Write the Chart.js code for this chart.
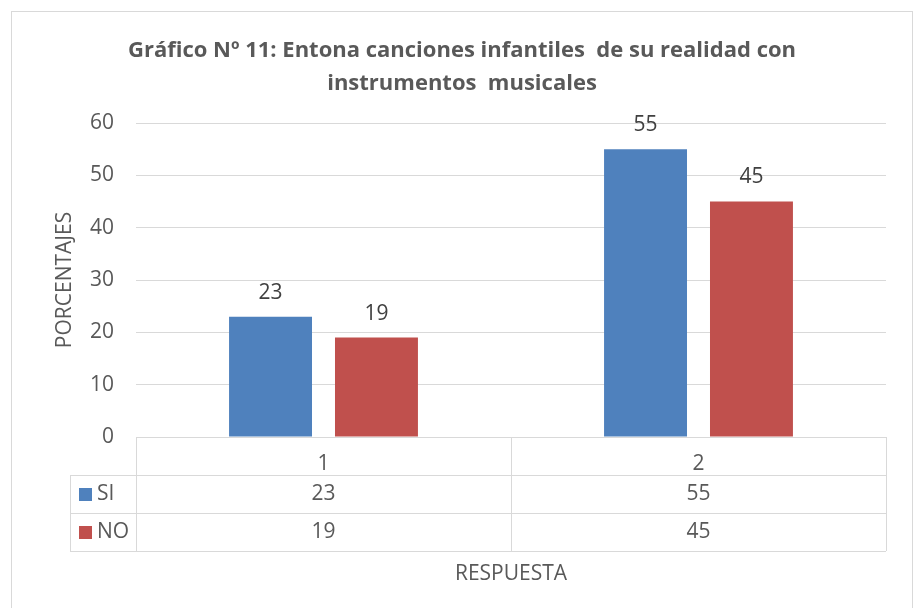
<!DOCTYPE html>
<html>
<head>
<meta charset="utf-8">
<script src="https://cdn.jsdelivr.net/npm/chart.js@4/dist/chart.umd.min.js"></script>
<style>
  html, body { margin: 0; padding: 0; background: #fff; }
</style>
</head>
<body>
<canvas id="chart" width="917" height="608"></canvas>
<script>
// data
const categories = ['1', '2'];
const seriesNames = ['SI', 'NO'];
const siValues = [23, 55];
const noValues = [19, 45];
const yMin = 0;
const yMax = 60;
const yStep = 10;
const titleLines = ['Gráfico Nº 11: Entona canciones infantiles  de su realidad con', 'instrumentos  musicales'];

const FONT = "'Open Sans', Lato, sans-serif";
const TEXT = '#595959';
const LINE = '#d9d9d9';
const COLORS = ['#4f81bd', '#c0504d'];
const ROW_H = 38;

// white background + light frame around the whole chart
const framePlugin = {
  id: 'frame',
  beforeDraw(chart) {
    const ctx = chart.ctx;
    ctx.save();
    ctx.fillStyle = '#fff';
    ctx.fillRect(0, 0, chart.width, chart.height);
    ctx.strokeStyle = LINE;
    ctx.lineWidth = 1;
    ctx.strokeRect(11.5, 11.5, 901, 640);
    ctx.restore();
  }
};

// numbers above each bar
const valueLabels = {
  id: 'valueLabels',
  afterDatasetsDraw(chart) {
    const ctx = chart.ctx;
    ctx.save();
    ctx.font = '21px ' + FONT;
    ctx.fillStyle = '#404040';
    ctx.textAlign = 'center';
    ctx.textBaseline = 'middle';
    chart.data.datasets.forEach((ds, i) => {
      chart.getDatasetMeta(i).data.forEach((bar, j) => {
        ctx.fillText(String(ds.data[j]), bar.x, bar.y - 24);
      });
    });
    ctx.restore();
  }
};

// Excel-style data table under the x axis
const dataTable = {
  id: 'dataTable',
  afterDraw(chart) {
    const ctx = chart.ctx;
    const area = chart.chartArea;
    const x = chart.scales.x;
    const top = area.bottom;
    const legendLeft = 70;
    const n = categories.length;
    const bounds = [area.left];
    for (let i = 0; i < n - 1; i++) {
      bounds.push(Math.round((x.getPixelForValue(i) + x.getPixelForValue(i + 1)) / 2));
    }
    bounds.push(area.right);
    const rows = chart.data.datasets.length;
    const bottom = top + ROW_H * (rows + 1);

    ctx.save();
    ctx.strokeStyle = LINE;
    ctx.lineWidth = 1;
    ctx.beginPath();
    bounds.forEach(b => {
      ctx.moveTo(Math.round(b) + 0.5, top);
      ctx.lineTo(Math.round(b) + 0.5, bottom);
    });
    ctx.moveTo(legendLeft + 0.5, top + ROW_H);
    ctx.lineTo(legendLeft + 0.5, bottom);
    for (let r = 1; r <= rows + 1; r++) {
      const y = Math.round(top + ROW_H * r) + 0.5;
      ctx.moveTo(legendLeft, y);
      ctx.lineTo(area.right, y);
    }
    ctx.stroke();

    ctx.font = '21px ' + FONT;
    ctx.textBaseline = 'middle';
    chart.data.datasets.forEach((ds, r) => {
      const cy = top + ROW_H * (r + 1) + ROW_H / 2;
      ctx.fillStyle = ds.backgroundColor;
      ctx.fillRect(79, cy - 6, 13, 13);
      ctx.fillStyle = TEXT;
      ctx.textAlign = 'left';
      ctx.fillText(ds.label, 97, cy);
      ctx.textAlign = 'center';
      ds.data.forEach((v, j) => {
        ctx.fillText(String(v), x.getPixelForValue(j), cy);
      });
    });
    ctx.restore();
  }
};

new Chart(document.getElementById('chart'), {
  type: 'bar',
  data: {
    labels: categories,
    datasets: [
      {
        label: seriesNames[0],
        data: siValues,
        backgroundColor: COLORS[0],
        barPercentage: 0.783,
        categoryPercentage: 0.565
      },
      {
        label: seriesNames[1],
        data: noValues,
        backgroundColor: COLORS[1],
        barPercentage: 0.783,
        categoryPercentage: 0.565
      }
    ]
  },
  options: {
    responsive: false,
    animation: false,
    layout: { padding: { left: 38, right: 31, top: 0, bottom: 0 } },
    plugins: {
      legend: { display: false },
      tooltip: { enabled: false },
      title: {
        display: true,
        text: titleLines,
        color: TEXT,
        font: { family: FONT, size: 22, weight: 'bold', lineHeight: 1.5 },
        padding: { top: 34, bottom: 23 }
      }
    },
    scales: {
      x: {
        grid: { display: false },
        border: { display: false },
        ticks: {
          color: TEXT,
          padding: 6,
          font: { family: FONT, size: 21 }
        },
        title: {
          display: true,
          text: 'RESPUESTA',
          color: TEXT,
          font: { family: FONT, size: 21, lineHeight: 1.2 },
          padding: { top: 0, bottom: 21 }
        },
        afterFit: scale => { scale.height = 171; }
      },
      y: {
        min: yMin,
        max: yMax,
        grid: { color: LINE, drawTicks: false },
        border: { display: false },
        ticks: {
          stepSize: yStep,
          color: TEXT,
          padding: 22,
          font: { family: FONT, size: 21 }
        },
        title: {
          display: true,
          text: 'PORCENTAJES',
          color: TEXT,
          font: { family: FONT, size: 21, lineHeight: 1.2 },
          padding: { top: 14, bottom: 0 }
        },
        afterFit: scale => { scale.width = 98; }
      }
    }
  },
  plugins: [framePlugin, valueLabels, dataTable]
});
</script>
</body>
</html>
